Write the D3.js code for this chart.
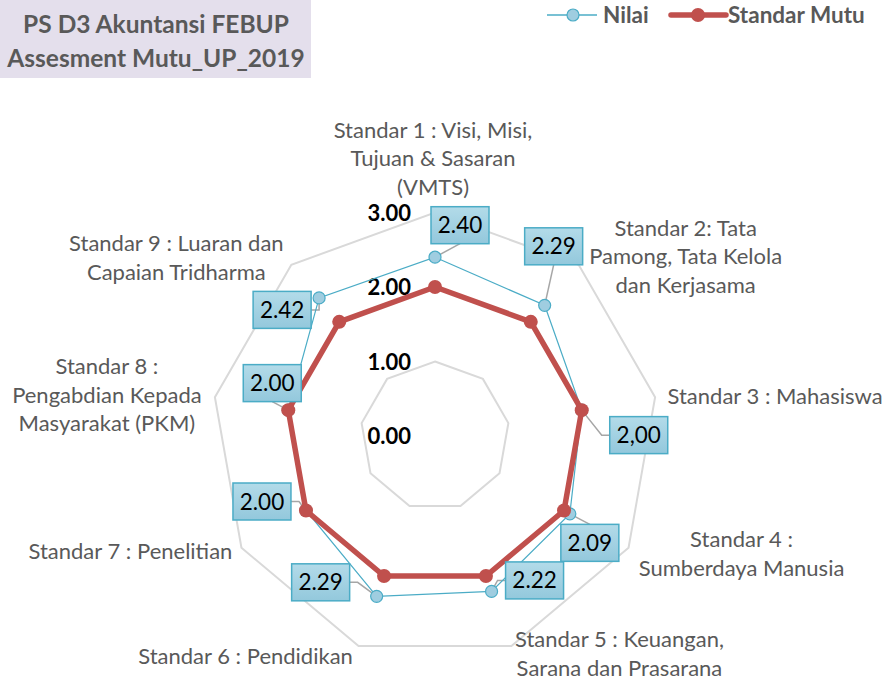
<!DOCTYPE html>
<html>
<head>
<meta charset="utf-8">
<script src="https://cdn.jsdelivr.net/npm/d3@7"></script>
<style>
  body { margin: 0; background: #fff; }
  svg { font-family: Lato, "Liberation Sans", sans-serif; }
</style>
</head>
<body>
<div id="chart"></div>
<script>
// data
var categories = [
  ["Standar 1 : Visi, Misi,", "Tujuan & Sasaran", "(VMTS)"],
  ["Standar 2: Tata", "Pamong, Tata Kelola", "dan Kerjasama"],
  ["Standar 3 : Mahasiswa"],
  ["Standar 4 :", "Sumberdaya Manusia"],
  ["Standar 5 : Keuangan,", "Sarana dan Prasarana"],
  ["Standar 6 : Pendidikan"],
  ["Standar 7 : Penelitian"],
  ["Standar 8 :", "Pengabdian Kepada", "Masyarakat (PKM)"],
  ["Standar 9 : Luaran dan", "Capaian Tridharma"]
];
var nilai = [2.40, 2.29, 2.00, 2.09, 2.22, 2.29, 2.00, 2.00, 2.42];
var standarMutu = [2, 2, 2, 2, 2, 2, 2, 2, 2];
var nilaiLabels = ["2.40", "2.29", "2,00", "2.09", "2.22", "2.29", "2.00", "2.00", "2.42"];
var ticks = [0, 1, 2, 3];
var tickLabels = ["0.00", "1.00", "2.00", "3.00"];
var seriesNames = ["Nilai", "Standar Mutu"];
var titleLines = ["PS D3 Akuntansi FEBUP", "Assesment Mutu_UP_2019"];

// layout (manual nudges, like the excel chart)
var boxOffsets = [[25,-32],[9,-59],[57,25],[20,29],[43,-11],[-56,-14],[-44,-9],[-16,-27],[-37,12]];
var catOffsets = [[-2,-54],[107,-8],[120,-1],[113,6],[108,8],[-113,10],[-111,4],[-108,-2],[-115,-7]];

var width = 886, height = 681;
var cx = 435, cy = 436;

var svg = d3.select("#chart").append("svg")
  .attr("width", width).attr("height", height);

var r = d3.scaleLinear().domain([0, 3]).range([0, 223.5]);
var angle = d3.scaleLinear().domain([0, categories.length]).range([0, 2 * Math.PI]);

function pt(i, v) {
  var a = angle(i);
  return [cx + r(v) * Math.sin(a), cy - r(v) * Math.cos(a)];
}

var defs = svg.append("defs");
var grad = defs.append("linearGradient").attr("id", "boxfill")
  .attr("x1", 0).attr("y1", 0).attr("x2", 0).attr("y2", 1);
grad.append("stop").attr("offset", "0%").attr("stop-color", "#b3dbe9");
grad.append("stop").attr("offset", "100%").attr("stop-color", "#93c8dc");

// title box
svg.append("rect").attr("x", 0).attr("y", 0).attr("width", 311).attr("height", 78)
  .attr("fill", "#e4dfec");
svg.append("g").selectAll("text").data(titleLines).enter().append("text")
  .attr("x", 156).attr("y", function(d, i) { return 33 + i * 34; })
  .attr("text-anchor", "middle")
  .attr("font-size", 24.5).attr("font-weight", "bold").attr("fill", "#595959")
  .text(function(d) { return d; });

// grid rings
var idx = d3.range(categories.length);
var ringLine = d3.line();
svg.append("g").selectAll("path").data(ticks.slice(1)).enter().append("path")
  .attr("d", function(t) { return ringLine(idx.map(function(i) { return pt(i, t); })) + "Z"; })
  .attr("fill", "none").attr("stroke", "#d9d9d9").attr("stroke-width", 2);

// tick labels
svg.append("g").selectAll("text").data(ticks).enter().append("text")
  .attr("x", cx - 24).attr("y", function(t) { return cy - r(t) + 8; })
  .attr("text-anchor", "end")
  .attr("font-size", 22).attr("font-weight", "bold").attr("fill", "#000")
  .text(function(t, i) { return tickLabels[i]; });

// category labels
var cats = svg.append("g").selectAll("text").data(categories).enter().append("text")
  .attr("text-anchor", "middle").attr("font-size", 22).attr("fill", "#595959")
  .attr("transform", function(d, i) {
    var p = pt(i, 3);
    var x = p[0] + catOffsets[i][0];
    var y = p[1] + catOffsets[i][1] - (d.length - 1) * 28.5 / 2 + 7.5;
    return "translate(" + x + "," + y + ")";
  });
cats.selectAll("tspan").data(function(d) { return d; }).enter().append("tspan")
  .attr("x", 0).attr("y", function(d, j) { return j * 28.5; })
  .text(function(d) { return d; });

// leader lines for nilai labels
var bw = 58, bh = 37;
var leaders = svg.append("g");
nilai.forEach(function(v, i) {
  var p = pt(i, v);
  var bx = p[0] + boxOffsets[i][0], by = p[1] + boxOffsets[i][1];
  var dx = bx - p[0], dy = by - p[1];
  if (Math.abs(dx) <= bw / 2 + 4 && Math.abs(dy) <= bh / 2 + 4) return;
  var pts;
  if (Math.abs(dx) > bw / 2 + 6) {
    var ex = dx > 0 ? bx - bw / 2 : bx + bw / 2;
    var kx = ex + (dx > 0 ? -8 : 8);
    pts = [p, [kx, by], [ex, by]];
  } else {
    var ey = dy > 0 ? by - bh / 2 : by + bh / 2;
    pts = [p, [bx, ey]];
  }
  leaders.append("path").attr("d", d3.line()(pts))
    .attr("fill", "none").attr("stroke", "#a6a6a6").attr("stroke-width", 1.5);
});

// Nilai series
var lineClosed = function(vals) {
  return d3.line()(vals.map(function(v, i) { return pt(i, v); })) + "Z";
};
svg.append("path").attr("d", lineClosed(nilai))
  .attr("fill", "none").attr("stroke", "#4bacc6").attr("stroke-width", 1.2);
svg.append("g").selectAll("circle").data(nilai).enter().append("circle")
  .attr("cx", function(v, i) { return pt(i, v)[0]; })
  .attr("cy", function(v, i) { return pt(i, v)[1]; })
  .attr("r", 6).attr("fill", "#9fcde0").attr("stroke", "#4bacc6").attr("stroke-width", 1.2);

// Standar Mutu series
svg.append("path").attr("d", lineClosed(standarMutu))
  .attr("fill", "none").attr("stroke", "#c0504d").attr("stroke-width", 5.5)
  .attr("stroke-linejoin", "round");
svg.append("g").selectAll("circle").data(standarMutu).enter().append("circle")
  .attr("cx", function(v, i) { return pt(i, v)[0]; })
  .attr("cy", function(v, i) { return pt(i, v)[1]; })
  .attr("r", 7).attr("fill", "#c0504d");

// nilai label boxes
var boxes = svg.append("g").selectAll("g").data(nilai).enter().append("g")
  .attr("transform", function(v, i) {
    var p = pt(i, v);
    return "translate(" + (p[0] + boxOffsets[i][0]) + "," + (p[1] + boxOffsets[i][1]) + ")";
  });
boxes.append("rect").attr("x", -bw / 2).attr("y", -bh / 2).attr("width", bw).attr("height", bh)
  .attr("fill", "url(#boxfill)").attr("stroke", "#4bacc6").attr("stroke-width", 1.5);
boxes.append("text").attr("text-anchor", "middle").attr("y", 8)
  .attr("font-size", 22.5).attr("fill", "#000")
  .text(function(v, i) { return nilaiLabels[i]; });

// legend
var legend = svg.append("g");
legend.append("line").attr("x1", 547).attr("x2", 597).attr("y1", 15).attr("y2", 15)
  .attr("stroke", "#4bacc6").attr("stroke-width", 1.5);
legend.append("circle").attr("cx", 573).attr("cy", 15).attr("r", 6)
  .attr("fill", "#9fcde0").attr("stroke", "#4bacc6").attr("stroke-width", 1.2);
legend.append("text").attr("x", 603).attr("y", 23).attr("font-size", 22.5)
  .attr("font-weight", "bold").attr("fill", "#595959").text(seriesNames[0]);
legend.append("line").attr("x1", 671).attr("x2", 726).attr("y1", 15).attr("y2", 15)
  .attr("stroke", "#c0504d").attr("stroke-width", 5.5).attr("stroke-linecap", "round");
legend.append("circle").attr("cx", 698).attr("cy", 15).attr("r", 7).attr("fill", "#c0504d");
legend.append("text").attr("x", 728).attr("y", 23).attr("font-size", 22.5)
  .attr("font-weight", "bold").attr("fill", "#595959").text(seriesNames[1]);
</script>
</body>
</html>
